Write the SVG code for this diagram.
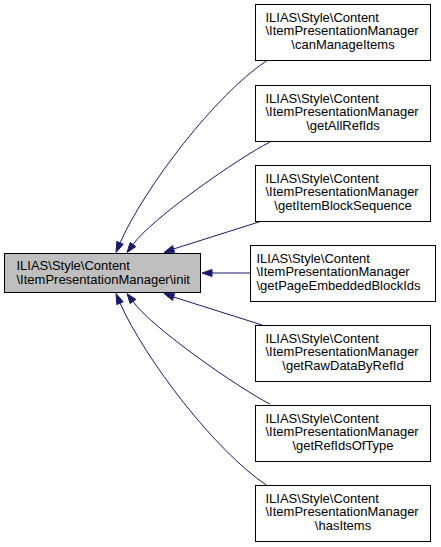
<svg xmlns="http://www.w3.org/2000/svg" width="441" height="547" viewBox="0 0 441 547">
<style>
.box{fill:#ffffff;stroke:#000000;stroke-width:1}
.main{fill:#bfbfbf;stroke:#000000;stroke-width:1}
text{font-family:"Liberation Sans",Arial,sans-serif;font-size:13px;fill:#000000}
.c{text-anchor:middle}
.edge{fill:none;stroke:#191970;stroke-width:1}
.head{fill:#191970;stroke:#191970;stroke-width:1}
</style>
<rect width="441" height="547" fill="#ffffff"/>
<g id="connectors">
<path class="edge" d="M267,60.5 C215,95 145,187 120,243"/>
<polygon class="head" points="123.2,244.2 116,252.5 116.8,241.4"/>
<path class="edge" d="M270,142 C240,157 152,218 133,244.5"/>
<polygon class="head" points="135.8,246.6 127,252.5 130.2,242.4"/>
<path class="edge" d="M262,221 L173.5,249"/>
<polygon class="head" points="174.6,252.3 164,252.5 172.5,245.6"/>
<path class="edge" d="M250,273 L212,273"/>
<polygon class="head" points="212,276.5 202,273 212,269.5"/>
<path class="edge" d="M262,325 L173.5,297"/>
<polygon class="head" points="174.6,293.7 164,293.5 172.5,300.4"/>
<path class="edge" d="M270,404 C240,389 152,328 133,301.5"/>
<polygon class="head" points="135.8,299.4 127,293.5 130.2,303.6"/>
<path class="edge" d="M267,485.5 C215,451 145,359 120,303"/>
<polygon class="head" points="123.2,301.8 116,293.5 116.8,304.6"/>
</g>
<g id="node-init">
<rect class="main" x="4.5" y="253.5" width="196" height="39"/>
<text x="16.5" y="270">ILIAS\Style\Content</text>
<text x="16.5" y="283.5">\ItemPresentationManager\init</text>
</g>
<g id="node-canManageItems">
<rect class="box" x="255.5" y="4.5" width="175" height="56"/>
<text x="265.5" y="21.5">ILIAS\Style\Content</text>
<text x="265.5" y="35">\ItemPresentationManager</text>
<text class="c" x="343" y="49">\canManageItems</text>
</g>
<g id="node-getAllRefIds">
<rect class="box" x="255.5" y="85.5" width="175" height="56"/>
<text x="265.5" y="102.5">ILIAS\Style\Content</text>
<text x="265.5" y="116">\ItemPresentationManager</text>
<text class="c" x="343" y="130">\getAllRefIds</text>
</g>
<g id="node-getItemBlockSequence">
<rect class="box" x="255.5" y="165.5" width="175" height="56"/>
<text x="265.5" y="182.5">ILIAS\Style\Content</text>
<text x="265.5" y="196">\ItemPresentationManager</text>
<text class="c" x="343" y="210">\getItemBlockSequence</text>
</g>
<g id="node-getPageEmbeddedBlockIds">
<rect class="box" x="250.5" y="245.5" width="185" height="56"/>
<text x="256.5" y="262.5">ILIAS\Style\Content</text>
<text x="256.5" y="276">\ItemPresentationManager</text>
<text x="256.5" y="290">\getPageEmbeddedBlockIds</text>
</g>
<g id="node-getRawDataByRefId">
<rect class="box" x="255.5" y="325.5" width="175" height="56"/>
<text x="265.5" y="342.5">ILIAS\Style\Content</text>
<text x="265.5" y="356">\ItemPresentationManager</text>
<text class="c" x="343" y="370">\getRawDataByRefId</text>
</g>
<g id="node-getRefIdsOfType">
<rect class="box" x="255.5" y="405.5" width="175" height="56"/>
<text x="265.5" y="422.5">ILIAS\Style\Content</text>
<text x="265.5" y="436">\ItemPresentationManager</text>
<text class="c" x="343" y="450">\getRefIdsOfType</text>
</g>
<g id="node-hasItems">
<rect class="box" x="255.5" y="485.5" width="175" height="56"/>
<text x="265.5" y="502.5">ILIAS\Style\Content</text>
<text x="265.5" y="516">\ItemPresentationManager</text>
<text class="c" x="343" y="530">\hasItems</text>
</g>
</svg>
